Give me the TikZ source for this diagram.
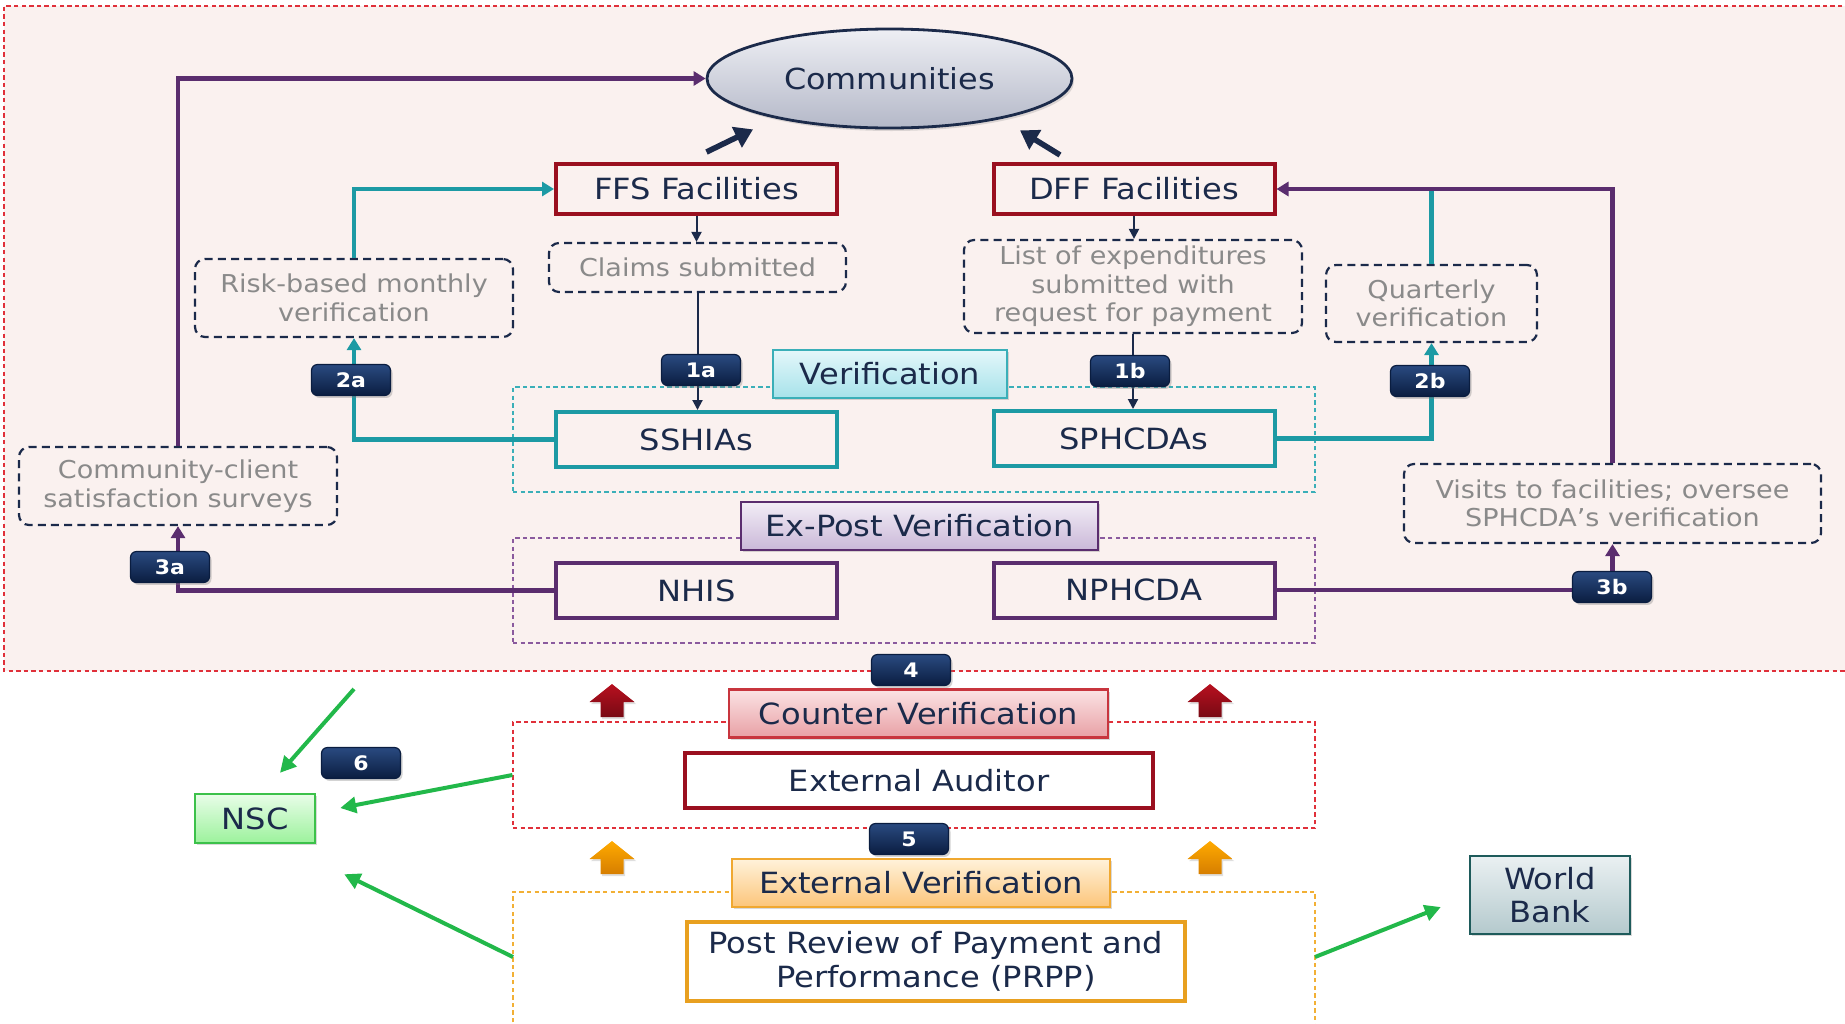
\documentclass[tikz,border=0pt]{standalone}
\usepackage{fontspec}
\setmainfont{DejaVu Sans}[FakeStretch=1.1]
\usetikzlibrary{arrows.meta,shapes.geometric,shadows}

\definecolor{pagebg}{HTML}{FAF1EF}
\definecolor{ink}{HTML}{1B2A4A}
\definecolor{notegray}{HTML}{8A8A8A}
\definecolor{tealc}{HTML}{1C9AA4}
\definecolor{purp}{HTML}{5A2D6E}
\definecolor{dred}{HTML}{9A0F1F}
\definecolor{orng}{HTML}{E8A020}
\definecolor{grn}{HTML}{22B84A}
\definecolor{regred}{HTML}{E0303A}
\definecolor{regteal}{HTML}{3AAFB8}
\definecolor{regpurp}{HTML}{8A5A9E}
\definecolor{regorng}{HTML}{F2B035}
\definecolor{badgetop}{HTML}{2A4A80}
\definecolor{badgebot}{HTML}{0A1D40}
\definecolor{elltop}{HTML}{EEEFF4}
\definecolor{ellbot}{HTML}{B4B8C8}
\definecolor{vtop}{HTML}{E4F7FA}
\definecolor{vbot}{HTML}{A6E2EA}
\definecolor{etop}{HTML}{F2EDF6}
\definecolor{ebot}{HTML}{CAB8D8}
\definecolor{cline}{HTML}{C8353E}
\definecolor{ctop}{HTML}{FBE3E4}
\definecolor{cbot}{HTML}{E8A0A5}
\definecolor{xline}{HTML}{F0A830}
\definecolor{xtop}{HTML}{FFF2DA}
\definecolor{xbot}{HTML}{FCC57A}
\definecolor{nline}{HTML}{3CC14A}
\definecolor{ntop}{HTML}{E8FDE8}
\definecolor{nbot}{HTML}{9CF29C}
\definecolor{wline}{HTML}{1E5B5B}
\definecolor{wtop}{HTML}{EAF0F2}
\definecolor{wbot}{HTML}{B4C9CD}
\definecolor{rtop}{HTML}{B8101F}
\definecolor{rbot}{HTML}{780A14}
\definecolor{otop}{HTML}{FFAA00}
\definecolor{obot}{HTML}{D67E00}

\newcommand\txtbig{\fontsize{14.5}{17}\selectfont}
\newcommand\txtbox{\fontsize{14.6}{16.8}\selectfont}
\newcommand\txtnote{\fontsize{12.3}{14.3}\selectfont}
\newcommand\txtbadge{\fontsize{10}{11}\selectfont\bfseries}

% block arrow pointing up: centre x, top y, top colour, bottom colour
\newcommand\uparrowblock[4]{%
  \path[top color=#3, bottom color=#4, drop shadow={opacity=0.25,shadow xshift=0.8pt,shadow yshift=-1pt}]
    (#1,#2) -- ++(22.5,18) -- ++(-11,0) -- ++(0,15) -- ++(-23,0) -- ++(0,-15) -- ++(-11,0) -- cycle;}

\begin{document}
\begin{tikzpicture}[x=0.5pt,y=-0.5pt,
  box/.style={draw, line width=2pt, inner sep=0pt, text=ink, font=\txtbox, align=center,
    minimum width=140.5pt, minimum height=27.5pt},
  notebox/.style={draw=ink, line width=1.1pt, dash pattern=on 4pt off 2.6pt, rounded corners=5pt,
    inner sep=0pt, text=notegray, font=\txtnote, align=center},
  tag/.style={draw, line width=1pt, inner sep=0pt, text=ink, font=\txtbox, align=center,
    minimum height=24pt, drop shadow={opacity=0.3, shadow xshift=1.2pt, shadow yshift=-1.2pt}},
  badge/.style={rounded corners=3pt, top color=badgetop, bottom color=badgebot, draw=badgebot,
    line width=0.6pt, text=white, font=\txtbadge, minimum width=39.5pt, minimum height=15.5pt,
    inner sep=0pt, drop shadow={opacity=0.35, shadow xshift=1pt, shadow yshift=-1.2pt}},
  region/.style={draw, line width=0.6pt, dash pattern=on 2.2pt off 1.6pt, inner sep=0pt},
  link/.style={draw=ink, line width=1pt, -{Triangle[length=5pt,width=5pt]}},
  tealink/.style={draw=tealc, line width=2.2pt, -{Triangle[length=6pt,width=7pt]}},
  purplink/.style={draw=purp, line width=2.2pt, -{Triangle[length=6pt,width=7pt]}},
  commarrow/.style={draw=ink, line width=2.8pt, -{Triangle[length=9pt,width=11pt]}},
  greenlink/.style={draw=grn, line width=2pt, -{Triangle[length=8pt,width=8pt]}},
]
\useasboundingbox (0,0) rectangle (1845,1023);

% upper panel
\fill[pagebg] (4,6) rectangle (1850,671);
\draw[regred, line width=0.6pt, dash pattern=on 2.2pt off 1.6pt] (1850,6) -- (4,6) -- (4,671) -- (1850,671);

% dashed group frames
\node[region, draw=regteal, minimum width=401pt, minimum height=52.5pt] (vgrp) at (914,439.5) {};
\node[region, draw=regpurp, minimum width=401pt, minimum height=52.5pt] (egrp) at (914,590.5) {};
\node[region, draw=regred, minimum width=401pt, minimum height=53pt] (agrp) at (914,775) {};
\draw[regorng, line width=0.6pt, dash pattern=on 2.2pt off 1.6pt] (513,1030) -- (513,892) -- (1315,892) -- (1315,1030);
\coordinate (ogrpw) at (513,957);
\coordinate (ogrpe) at (1315,957);

% communities
\node[ellipse, draw=ink, line width=1.4pt, top color=elltop, bottom color=ellbot,
  minimum width=182.5pt, minimum height=49.5pt, inner sep=0pt, font=\txtbig, text=ink,
  drop shadow={opacity=0.25, shadow xshift=1pt, shadow yshift=-1.5pt}] (comm) at (889.5,78.5) {Communities};

% facility and agency boxes
\node[box, draw=dred, minimum height=25pt] (ffs) at (696.5,189) {FFS Facilities};
\node[box, draw=dred, minimum height=25pt] (dff) at (1134,189) {DFF Facilities};
\node[box, draw=tealc] (sshias) at (696.5,439.5) {SSHIAs};
\node[box, draw=tealc] (sphcdas) at (1134,438.5) {SPHCDAs};
\node[box, draw=purp] (nhis) at (696.5,590.5) {NHIS};
\node[box, draw=purp] (nphcda) at (1134,590) {NPHCDA};

% dashed notes
\node[notebox, minimum width=148.5pt, minimum height=24.5pt] (claims) at (697.5,267.5) {Claims submitted};
\node[notebox, minimum width=169pt, minimum height=46.5pt] (expend) at (1133,286.5) {List of expenditures\\submitted with\\request for payment};
\node[notebox, minimum width=159pt, minimum height=39pt] (risk) at (354,298) {Risk-based monthly\\verification};
\node[notebox, minimum width=105.5pt, minimum height=38.5pt] (quart) at (1431.5,303.5) {Quarterly\\verification};
\node[notebox, minimum width=159pt, minimum height=39pt] (survey) at (178,486) {Community-client\\satisfaction surveys};
\node[notebox, minimum width=208.5pt, minimum height=39.5pt] (visits) at (1612.5,503.5) {Visits to facilities; oversee\\SPHCDA’s verification};

% group titles
\node[tag, draw=regteal, line width=1.2pt, top color=vtop, bottom color=vbot, minimum width=117pt] (verif) at (890,374) {Verification};
\node[tag, draw=purp, line width=1.2pt, top color=etop, bottom color=ebot, minimum width=178.5pt] (expost) at (919.5,526) {Ex-Post Verification};
\node[tag, draw=cline, line width=1.2pt, top color=ctop, bottom color=cbot, minimum width=189.5pt] (counter) at (918.5,713.5) {Counter Verification};
\node[tag, draw=xline, line width=1.2pt, top color=xtop, bottom color=xbot, minimum width=189pt] (extver) at (921,883) {External Verification};

% lower boxes
\node[box, draw=dred, fill=white, minimum width=234pt] (auditor) at (919,780.5) {External Auditor};
\node[box, draw=orng, fill=white, minimum width=249pt, minimum height=39.5pt] (prpp) at (936,961.5) {Post Review of Payment and\\Performance (PRPP)};
\node[tag, draw=nline, line width=1.2pt, top color=ntop, bottom color=nbot, minimum width=60pt, minimum height=24.5pt] (nsc) at (255,818.5) {NSC};
\node[tag, draw=wline, line width=1.2pt, top color=wtop, bottom color=wbot, minimum width=80pt, minimum height=39pt] (wb) at (1550,895) {World\\Bank};

% flows up to the communities
\draw[commarrow] ([shift={(10,-10)}]ffs.north) -- ([shift={(-136.5,0)}]comm.south);
\draw[commarrow] ([shift={(-74,-7)}]dff.north) -- ([shift={(130.5,1)}]comm.south);

% claims route (1a, 1b)
\draw[link] (ffs.south) -- (ffs.south |- claims.north);
\draw[link] (claims.south) -- (claims.south |- sshias.north);
\draw[link] (dff.south) -- (dff.south |- expend.north);
\draw[link] (expend.south) -- (expend.south |- sphcdas.north);

% verification route (2a, 2b)
\draw[tealink] (sshias.west) -| (risk.south);
\draw[tealink] (risk.north) |- (ffs.west);
\draw[tealink] (sphcdas.east) -| (quart.south);
\draw[draw=tealc, line width=2.2pt] (quart.north) -- (quart.north |- dff.east);

% ex-post route (3a, 3b)
\draw[purplink] (nhis.west) -| (survey.south);
\draw[purplink] (survey.north) |- (comm.west);
\draw[purplink] (nphcda.east) -| (visits.south);
\draw[purplink] (visits.north) |- (dff.east);

% reporting to NSC and World Bank
\coordinate (g1s) at (354,689);
\draw[greenlink] (g1s) -- ([shift={(25,-20)}]nsc.north);
\draw[greenlink] (agrp.west) -- ([shift={(24,-10.5)}]nsc.east);
\draw[greenlink] (ogrpw) -- ([shift={(28,30)}]nsc.south east);
\draw[greenlink] (ogrpe) -- ([shift={(-28,12)}]wb.west);

% step badges
\node[badge] (b1a) at (701,370) {1a};
\node[badge] (b1b) at (1130,371) {1b};
\node[badge] (b2a) at (351,380) {2a};
\node[badge] (b2b) at (1430,381) {2b};
\node[badge] (b3a) at (170,567) {3a};
\node[badge] (b3b) at (1612,587) {3b};
\node[badge] (b4) at (911,670) {4};
\node[badge] (b5) at (909,839) {5};
\node[badge] (b6) at (361,763) {6};

% block arrows
\uparrowblock{612}{684}{rtop}{rbot}
\uparrowblock{1210}{684}{rtop}{rbot}
\uparrowblock{612}{841}{otop}{obot}
\uparrowblock{1210}{841}{otop}{obot}
\end{tikzpicture}
\end{document}
